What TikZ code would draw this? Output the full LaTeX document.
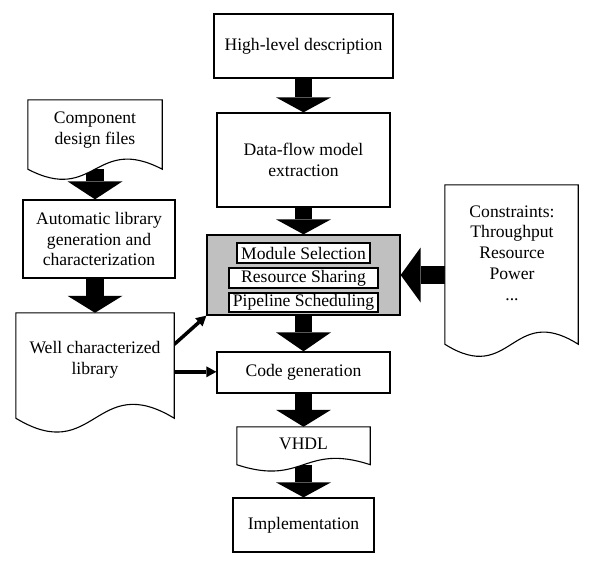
\documentclass[tikz,border=0pt]{standalone}
\usepackage{fontspec}
\setmainfont{Liberation Serif}
\usetikzlibrary{arrows.meta,calc}
\definecolor{grayfill}{RGB}{192,192,192}
\newcommand\docdraw[2]{\draw[docline] (#1.north west) -- (#1.north east) -- (#1.south east) .. controls ($(#1.south)+(0,-#2)$) and ($(#1.south)+(0,#2)$) .. (#1.south west) -- cycle;}
\begin{document}
\begin{tikzpicture}[x=1pt,y=-1pt,
  every node/.style={font=\fontsize{17.6}{20.8}\selectfont, align=center, inner sep=0pt},
  box/.style={draw, line width=1.3pt, fill=white},
  ibox/.style={draw, line width=1.4pt, fill=white},
  frame/.style={inner sep=0pt},
  docline/.style={draw, line width=1.1pt, fill=white},
  bigarrow/.style={line width=17.5pt, -{Triangle[width=55pt,length=#1,line width=0pt]}},
  bigarrow/.default=16pt,
  thinarrow/.style={line width=3.5pt, -{Triangle[width=11pt,length=10pt,line width=0pt]}}]
\useasboundingbox (0,0) rectangle (594,562);
% main column
\node[box, minimum width=179pt, minimum height=64pt] (hld) at (303.5,46) {High-level description};
\node[box, minimum width=173pt, minimum height=94pt] (dfm) at (303.5,160) {Data-flow model\\extraction};
\node[box, fill=grayfill, minimum width=193pt, minimum height=80pt] (gray) at (303.5,275) {};
\node[ibox, minimum width=133pt, minimum height=20pt] (ms) at (303.5,253) {Module Selection};
\node[ibox, minimum width=149pt, minimum height=20pt] (rs) at (303.5,278) {Resource Sharing};
\node[ibox, minimum width=149pt, minimum height=19pt] (ps) at (303.5,302.5) {Pipeline Scheduling};
\node[box, minimum width=173pt, minimum height=41pt] (cg) at (303.5,372.5) {Code generation};
\node[box, minimum width=141pt, minimum height=54pt] (impl) at (303.5,525) {Implementation};
\node[box, minimum width=152pt, minimum height=78pt] (autolib) at (99,239) {Automatic library\\generation and\\characterization};
% document frames
\node[frame, minimum width=134pt, minimum height=69pt] (comp) at (95,134.5) {};
\node[frame, minimum width=158pt, minimum height=105pt] (wcl) at (95,365.5) {};
\node[frame, minimum width=133pt, minimum height=37.5pt] (vhdl) at (303.5,445.75) {};
\node[frame, minimum width=133pt, minimum height=159pt] (cons) at (511.5,264.5) {};
% arrows
\draw[bigarrow=15pt] (hld.south) -- (dfm.north);
\draw[bigarrow=15pt] (dfm.south) -- (gray.north);
\draw[bigarrow=19pt] (gray.south) -- (cg.north);
\draw[bigarrow=17pt] (cg.south) -- (vhdl.north);
\draw[bigarrow=15pt] (vhdl.south) -- (impl.north);
\draw[bigarrow=18pt] (comp.south) -- (comp.south |- autolib.north);
\draw[bigarrow=17pt] (wcl.north |- autolib.south) -- (wcl.north);
\draw[bigarrow=20pt] (cons.west |- gray.east) -- (gray.east);
\coordinate (d1) at ($(wcl.north east)!0.3!(wcl.south east)$);
\coordinate (d2) at ($(wcl.north east)!0.56!(wcl.south east)$);
\draw[thinarrow] (d1) -- (gray.south west);
\draw[thinarrow] (d2) -- (d2 -| cg.west);
% documents
\docdraw{comp}{35}
\docdraw{wcl}{48}
\docdraw{vhdl}{22}
\docdraw{cons}{42}
\node (compt) at (95,130) {Component\\design files};
\node (wclt) at (95,360) {Well characterized\\library};
\node (const) at (512,253) {Constraints:\\Throughput\\Resource\\Power\\...};
\node (vhdlt) at (303.5,444) {VHDL};
\end{tikzpicture}
\end{document}
